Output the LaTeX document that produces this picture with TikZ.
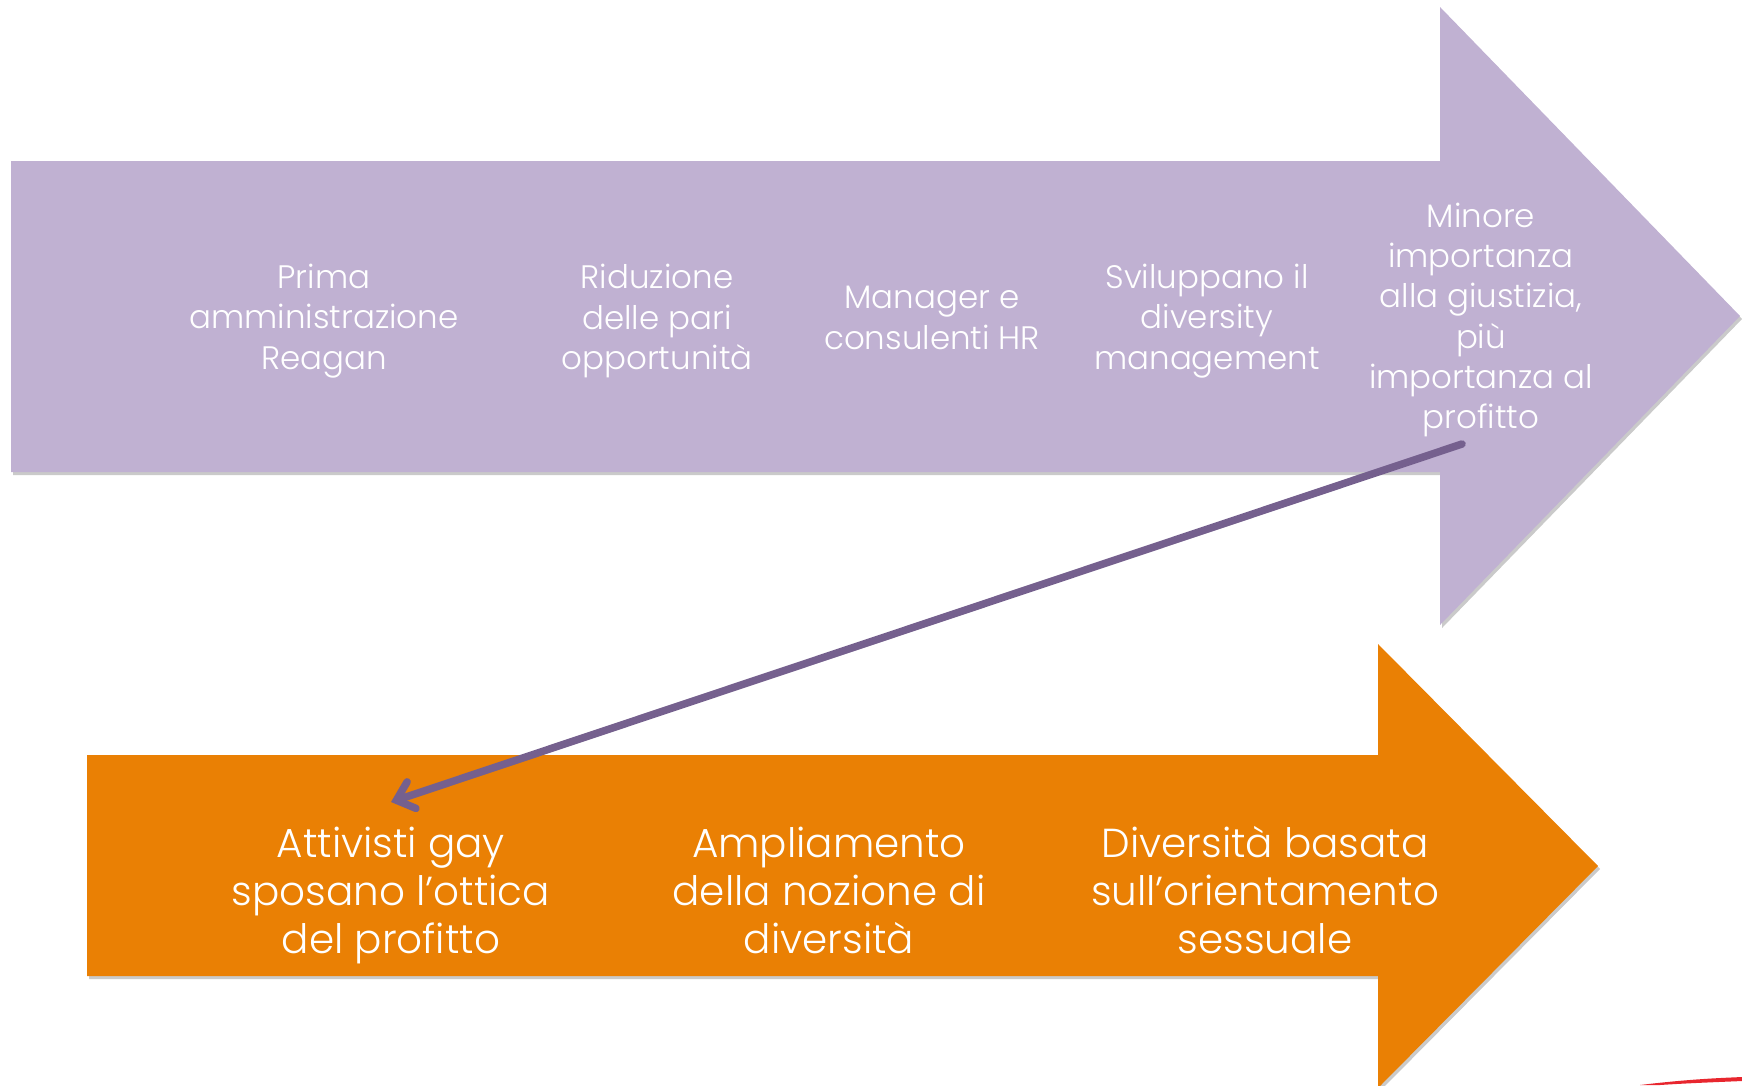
\documentclass[tikz,border=0pt]{standalone}
\usepackage{fontspec}
\setmainfont{Poppins}[UprightFont=* Light]
\usetikzlibrary{arrows.meta,shadows}
\definecolor{lav}{HTML}{C0B1D2}
\definecolor{org}{HTML}{EA8004}
\definecolor{conn}{HTML}{75608E}
\definecolor{slidered}{HTML}{E8262E}
\tikzset{
  shapeshadow/.style={drop shadow={shadow xshift=2pt,shadow yshift=-3pt,opacity=0.35,fill=black!60}},
  toptext/.style={text=white,align=center,font=\fontsize{32.5}{40.2}\selectfont},
  bottext/.style={text=white,align=center,font=\fontsize{40.5}{48}\selectfont},
}
\begin{document}
\begin{tikzpicture}[x=1pt,y=-1pt]
\useasboundingbox (0,0) rectangle (1742,1085);
% purple arrow
\path[fill=lav,shapeshadow] (11,161) -- (1440,161) -- (1440,7) -- (1740,316) -- (1440,625) -- (1440,472) -- (11,472) -- cycle;
% orange arrow
\path[fill=org,shapeshadow] (87,755) -- (1378,755) -- (1378,644) -- (1598,866) -- (1378,1088) -- (1378,976) -- (87,976) -- cycle;
% top texts
\node[toptext] (t1) at (324,321) {Prima\\amministrazione\\Reagan};
\node[toptext] (t2) at (657,321) {Riduzione\\delle pari\\opportunità};
\node[toptext] (t3) at (932,318) {Manager e\\consulenti HR};
\node[toptext] (t4) at (1207,321) {Sviluppano il\\diversity\\management};
\node[toptext] (t5) at (1481,320) {Minore\\importanza\\alla giustizia,\\più\\importanza al\\profitto};
% bottom texts
\node[bottext] (b1) at (391,895) {Attivisti gay\\sposano l’ottica\\del profitto};
\node[bottext] (b2) at (829,890.5) {Ampliamento\\della nozione di\\diversità};
\node[bottext] (b3) at (1265,890.5) {Diversità basata\\sull’orientamento\\sessuale};
% connector
\coordinate (cs) at (1462,444);
\coordinate (ce) at (391,802);
\draw[conn,line width=7.5pt,line cap=round,-{Straight Barb[length=16pt,width=28pt,line cap=round]},
  drop shadow={shadow xshift=2pt,shadow yshift=-3pt,opacity=0.25}] (cs) -- (ce);
% red swoosh bottom right
\fill[slidered] (1640,1085) .. controls (1690,1079) and (1720,1078) .. (1742,1077) -- (1742,1081) .. controls (1720,1082) and (1690,1083) .. (1660,1085) -- cycle;
\end{tikzpicture}
\end{document}
